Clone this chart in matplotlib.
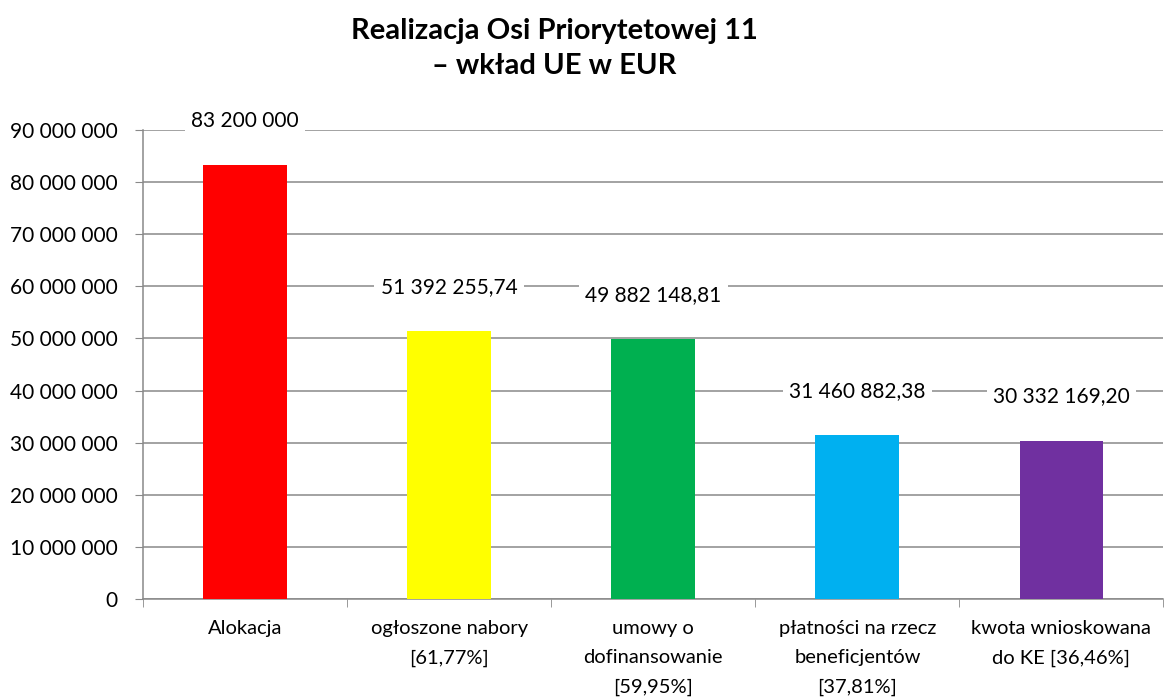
import matplotlib
matplotlib.use('Agg')
import matplotlib.pyplot as plt
from matplotlib.ticker import FuncFormatter, MultipleLocator, FixedLocator
import numpy as np

plt.rcParams['font.family'] = ['Lato', 'DejaVu Sans']

# data
categories = ['Alokacja',
              'ogłoszone nabory\n[61,77%]',
              'umowy o\ndofinansowanie\n[59,95%]',
              'płatności na rzecz\nbeneficjentów\n[37,81%]',
              'kwota wnioskowana\ndo KE [36,46%]']
values = [83200000, 51392255.74, 49882148.81, 31460882.38, 30332169.20]
colors = ['#FF0000', '#FFFF00', '#00B050', '#00B0F0', '#7030A0']


def fmt_pl(v, decimals=2):
    s = f'{v:,.{decimals}f}'.replace(',', ' ').replace('.', ',')
    return s


labels = [fmt_pl(v, 0) if float(v).is_integer() else fmt_pl(v) for v in values]

fig = plt.figure(figsize=(11.65, 7), dpi=100)
ax = fig.add_axes([0.1227, 0.1443, 0.876, 0.670])

x = np.arange(len(categories))
ax.bar(x, values, width=0.41, color=colors, zorder=3)

ax.set_xlim(-0.5, len(categories) - 0.5)
ax.set_ylim(0, 90000000)
ax.yaxis.set_major_locator(MultipleLocator(10000000))
ax.yaxis.set_major_formatter(FuncFormatter(lambda v, p: fmt_pl(v, 0)))
ax.grid(axis='y', color='#898989', linewidth=1.1, zorder=0)

ax.set_xticks(x)
ax.set_xticklabels(categories, linespacing=1.9)
ax.xaxis.set_minor_locator(FixedLocator(np.arange(-0.5, len(categories), 1)))
ax.tick_params(axis='x', which='major', length=0, pad=15, labelsize=14.5)
ax.tick_params(axis='x', which='minor', length=6, color='#898989', direction='out')
ax.tick_params(axis='y', length=6, color='#898989', labelsize=15, pad=12)

for s in ['top', 'right']:
    ax.spines[s].set_visible(False)
for s in ['left', 'bottom']:
    ax.spines[s].set_color('#898989')
    ax.spines[s].set_linewidth(1.1)

for xi, v, lab in zip(x, values, labels):
    ax.annotate(lab, (xi, v), xytext=(0, 32), textcoords='offset points',
                ha='center', va='center', fontsize=15, zorder=5,
                bbox=dict(boxstyle='square,pad=0.3', fc='white', ec='none'),
                annotation_clip=False)

fig.text(0.476, 0.931, 'Realizacja Osi Priorytetowej 11\n– wkład UE w EUR',
         ha='center', va='center', fontsize=21, fontweight='bold', linespacing=1.43)

fig.savefig('out.png', dpi=100)
